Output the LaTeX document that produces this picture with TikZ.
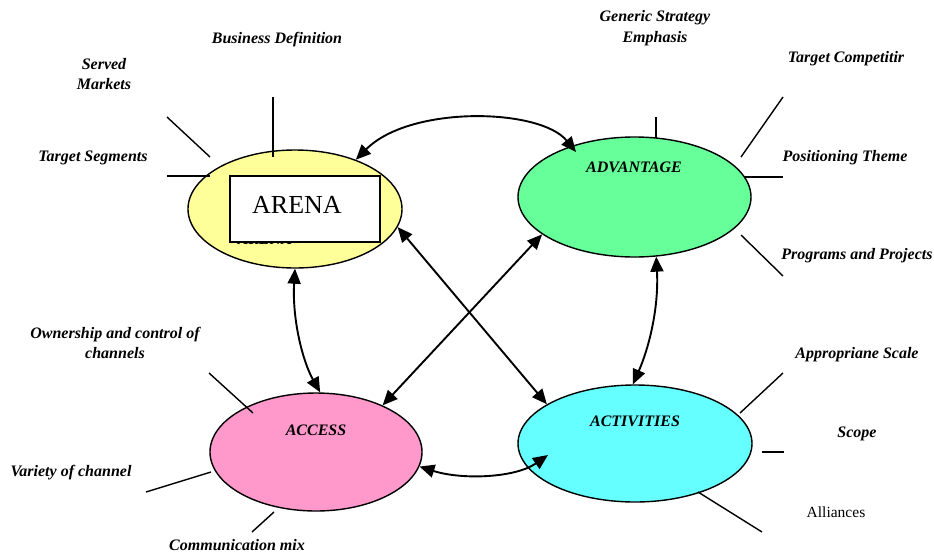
\documentclass[tikz,border=0pt]{standalone}
\usepackage{fontspec}
\setmainfont{Liberation Serif}
\usetikzlibrary{shapes.geometric,arrows.meta}
\definecolor{arenafill}{RGB}{255,255,153}
\definecolor{advfill}{RGB}{102,255,153}
\definecolor{accfill}{RGB}{255,153,204}
\definecolor{actfill}{RGB}{102,255,255}
\begin{document}
\begin{tikzpicture}[x=1pt,y=-1pt,
  lab/.style={font=\fontsize{16}{20.5}\selectfont\bfseries\itshape, align=center, inner sep=0pt},
  plain/.style={font=\fontsize{15.5}{20.5}\selectfont, inner sep=0pt},
  oval/.style={ellipse, draw, line width=1.4pt, inner sep=0pt},
  spoke/.style={line width=1.4pt},
  link/.style={line width=1.9pt, {Triangle[length=15pt,width=13pt]}-{Triangle[length=15pt,width=13pt]}},
]
\useasboundingbox (0,0) rectangle (934,555);

% the four ovals
\node[oval, fill=arenafill, minimum width=214pt, minimum height=118pt] (arena) at (295,209) {};
\node[oval, fill=advfill, minimum width=233pt, minimum height=120pt] (adv) at (634.5,197) {};
\node[oval, fill=accfill, minimum width=212pt, minimum height=118pt] (acc) at (316,452) {};
\node[oval, fill=actfill, minimum width=234pt, minimum height=117pt] (act) at (635,443.5) {};

% title of the arena oval, mostly covered by the white box
\node[lab, anchor=base] (arenasub) at (265,244) {ARENA};
\node[draw, fill=white, line width=1.4pt, minimum width=150pt, minimum height=66pt, inner sep=0pt] (arenabox) at (305,209) {};
\node[font=\fontsize{26}{30}\selectfont, inner sep=0pt] (arenatxt) at (297,205) {ARENA};

\node[lab] (advtxt) at (634,167) {ADVANTAGE};
\node[lab] (acctxt) at (316,430) {ACCESS};
\node[lab] (acttxt) at (635,421) {ACTIVITIES};

% labels around the arena
\node[lab] (busdef) at (277,40) {Business Definition};
\node[lab] (served) at (104,74) {Served\\Markets};
\node[lab] (tseg) at (93,158) {Target Segments};
\draw[spoke] (167,117) -- (210,157);
\draw[spoke] (273,97) -- (273,157);
\draw[spoke] (167,176) -- (210,176);

% labels around the advantage
\node[lab] (generic) at (655,28) {Generic Strategy\\Emphasis};
\node[lab] (tcomp) at (846,59) {Target Competitir};
\node[lab] (postheme) at (845,158) {Positioning Theme};
\node[lab] (progs) at (857,256) {Programs and Projects};
\draw[spoke] (656,117) -- (656,138);
\draw[spoke] (783,97) -- (741,157);
\draw[spoke] (744,177) -- (783,177);
\draw[spoke] (741,235) -- (783,276);

% labels around the activities
\node[lab] (scale) at (857,355) {Appropriane Scale};
\node[lab] (scope) at (857,434) {Scope};
\node[plain] (alli) at (836,512) {Alliances};
\draw[spoke] (783,373) -- (740,413);
\draw[spoke] (762,452) -- (784,452);
\draw[spoke] (698,492) -- (762,532);

% labels around the access
\node[lab] (owner) at (115,343) {Ownership and control of\\channels};
\node[lab] (variety) at (71,473) {Variety of channel};
\node[lab] (commix) at (237,545) {Communication mix};
\draw[spoke] (209,373) -- (253,413);
\draw[spoke] (146,492) -- (211,472);
\draw[spoke] (252,532) -- (274,512);

% links between the ovals
\coordinate (advin) at (576,152);
\draw[link] (arena.39) .. controls (410,105) and (540,108) .. (advin);
\draw[link] (arena.-90) .. controls (292,320) and (303,362) .. (acc.86);
\draw[link] (adv.-70) .. controls (659,310) and (648,350) .. (act.92);
\draw[link] (arena.-10) -- (act.156);
\draw[link] (adv.202) -- (acc.35);
\coordinate (actin) at (548,455);
\draw[link] (acc.-8) .. controls (462,480) and (515,478) .. (actin);
\end{tikzpicture}
\end{document}
